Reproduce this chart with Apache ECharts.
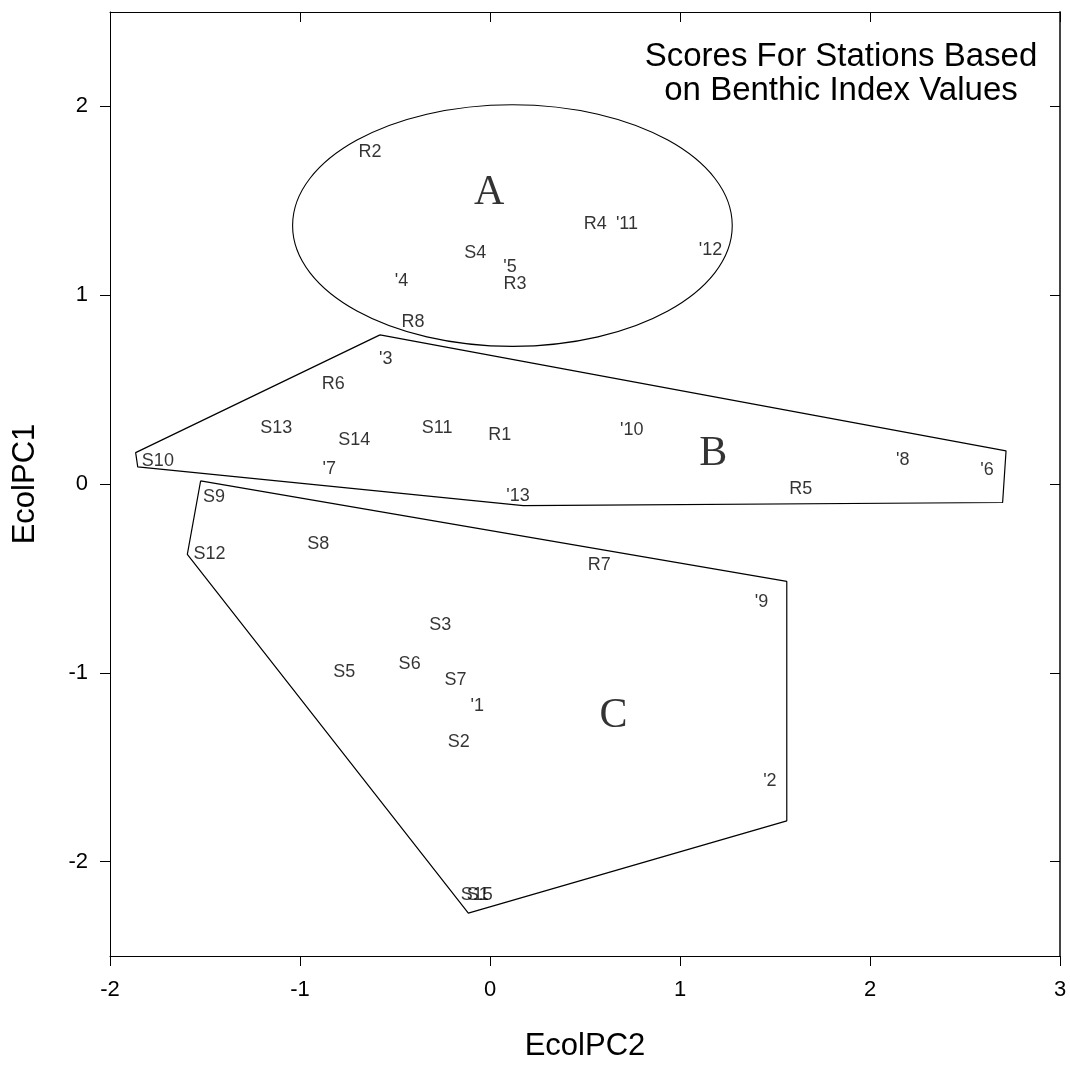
<!DOCTYPE html>
<html>
<head>
<meta charset="utf-8">
<script src="https://cdn.jsdelivr.net/npm/echarts@6/dist/echarts.min.js"></script>
<style>
  html, body { margin: 0; padding: 0; background: #ffffff; }
  #chart { width: 1070px; height: 1067px; }
</style>
</head>
<body>
<div id="chart"></div>
<script>
// Station scores on the first two ecological principal components
const stationNames = ['R2', 'R4', "'11", "'12", 'S4', "'5", 'R3', "'4", 'R8',
  "'3", 'R6', 'S13', 'S14', 'S11', 'R1', "'10", 'S10', "'7", "'13", "'8", "'6", 'R5',
  'S9', 'S8', 'S12', 'R7', "'9", 'S3', 'S6', 'S5', 'S7', "'1", 'S2', "'2", 'S1', 'S15'];
const pc2Scores = [-0.631, 0.554, 0.721, 1.161, -0.078, 0.105, 0.132, -0.466, -0.405,
  -0.549, -0.825, -1.125, -0.715, -0.278, 0.051, 0.746, -1.748, -0.846, 0.147, 2.172, 2.616, 1.636,
  -1.453, -0.904, -1.476, 0.575, 1.429, -0.262, -0.423, -0.767, -0.182, -0.067, -0.164, 1.473, -0.065, -0.070];
const pc1Scores = [1.757, 1.378, 1.378, 1.241, 1.225, 1.150, 1.058, 1.076, 0.860,
  0.664, 0.530, 0.296, 0.232, 0.295, 0.262, 0.287, 0.120, 0.080, -0.064, 0.126, 0.074, -0.029,
  -0.068, -0.320, -0.370, -0.431, -0.627, -0.746, -0.952, -0.996, -1.039, -1.175, -1.365, -1.575, -2.179, -2.179];

// Group letters
const groupNames = ['A', 'B', 'C'];
const groupPC2 = [-0.004, 1.175, 0.650];
const groupPC1 = [1.539, 0.157, -1.226];

// Group A outline: ellipse centre and semi-axes in score units
const ellipseA = [0.118, 1.369, 1.157, 0.640];

// Group B hull vertices (closed)
const hullBPC2 = [-0.579, 2.716, 2.698, 0.175, -1.854, -1.865, -0.579];
const hullBPC1 = [0.790, 0.175, -0.098, -0.115, 0.091, 0.166, 0.790];

// Group C hull vertices (closed)
const hullCPC2 = [-1.523, 1.562, 1.562, -0.114, -1.593, -1.523];
const hullCPC1 = [0.017, -0.516, -1.784, -2.273, -0.373, 0.017];

// Axis ticks
const xTicks = [-2, -1, 0, 1, 2, 3];
const yTicks = [-2, -1, 0, 1, 2];

const FONT = '"Liberation Sans", Arial, Helvetica, sans-serif';
const SERIF = '"Liberation Serif", "Times New Roman", Times, serif';

const stationData = stationNames.map((n, i) => [pc2Scores[i], pc1Scores[i], n]);
const groupData = groupNames.map((n, i) => [groupPC2[i], groupPC1[i], n]);
const hullB = hullBPC2.map((x, i) => [x, hullBPC1[i]]);
const hullC = hullCPC2.map((x, i) => [x, hullCPC1[i]]);

const chart = echarts.init(document.getElementById('chart'), null, { renderer: 'canvas' });

const outlineStyle = { color: '#000', width: 1.2 };

chart.setOption({
  animation: false,
  backgroundColor: '#ffffff',
  grid: { left: 110, right: 10, top: 12, bottom: 106, containLabel: false },
  xAxis: [
    {
      type: 'value', position: 'bottom', min: -2, max: 3, interval: 1,
      name: 'EcolPC2', nameLocation: 'middle', nameGap: 75,
      nameTextStyle: { fontFamily: FONT, fontSize: 31, color: '#000' },
      axisLine: { onZero: false, lineStyle: { color: '#000', width: 1 } },
      axisTick: { show: true, inside: false, length: 10, lineStyle: { color: '#000' }, customValues: xTicks },
      axisLabel: { fontFamily: FONT, fontSize: 22, color: '#000', margin: 23, customValues: xTicks },
      splitLine: { show: false }
    },
    {
      type: 'value', position: 'top', min: -2, max: 3, interval: 1,
      axisLine: { onZero: false, lineStyle: { color: '#000', width: 1 } },
      axisTick: { show: true, inside: true, length: 10, lineStyle: { color: '#000' }, customValues: xTicks },
      axisLabel: { show: false },
      splitLine: { show: false }
    }
  ],
  yAxis: [
    {
      type: 'value', position: 'left', min: -2.5, max: 2.5,
      name: 'EcolPC1', nameLocation: 'middle', nameGap: 69,
      nameTextStyle: { fontFamily: FONT, fontSize: 31, color: '#000' },
      axisLine: { onZero: false, lineStyle: { color: '#000', width: 1 } },
      axisTick: { show: true, inside: false, length: 10, lineStyle: { color: '#000' }, customValues: yTicks },
      axisLabel: { fontFamily: FONT, fontSize: 22, color: '#000', margin: 22, customValues: yTicks },
      splitLine: { show: false }
    },
    {
      type: 'value', position: 'right', min: -2.5, max: 2.5,
      axisLine: { onZero: false, lineStyle: { color: '#444', width: 2 } },
      axisTick: { show: true, inside: true, length: 10, lineStyle: { color: '#000' }, customValues: yTicks },
      axisLabel: { show: false },
      splitLine: { show: false }
    }
  ],
  graphic: [
    {
      type: 'text', x: 841, y: 40, z: 10,
      style: {
        text: 'Scores For Stations Based\non Benthic Index Values',
        font: '33px ' + FONT, fill: '#000', align: 'center', verticalAlign: 'top', lineHeight: 34
      }
    }
  ],
  series: [
    {
      // group A outline
      type: 'custom', xAxisIndex: 0, yAxisIndex: 0, silent: true,
      data: [ellipseA],
      renderItem: function (params, api) {
        const c = api.coord([api.value(0), api.value(1)]);
        const s = api.size([api.value(2), api.value(3)]);
        return {
          type: 'ellipse',
          shape: { cx: c[0], cy: c[1], rx: s[0], ry: s[1] },
          style: { fill: 'none', stroke: '#000', lineWidth: 1.1 }
        };
      }
    },
    {
      type: 'line', data: hullB, symbol: 'none', silent: true,
      lineStyle: outlineStyle
    },
    {
      type: 'line', data: hullC, symbol: 'none', silent: true,
      lineStyle: outlineStyle
    },
    {
      type: 'scatter', data: stationData, symbolSize: 1, silent: true,
      itemStyle: { color: 'rgba(0,0,0,0)' },
      label: {
        show: true, position: 'inside', formatter: p => p.data[2],
        fontFamily: FONT, fontSize: 18, color: '#000'
      }
    },
    {
      type: 'scatter', data: groupData, symbolSize: 1, silent: true,
      itemStyle: { color: 'rgba(0,0,0,0)' },
      label: {
        show: true, position: 'inside', formatter: p => p.data[2],
        fontFamily: SERIF, fontSize: 42, color: '#000'
      }
    }
  ]
});
</script>
</body>
</html>
